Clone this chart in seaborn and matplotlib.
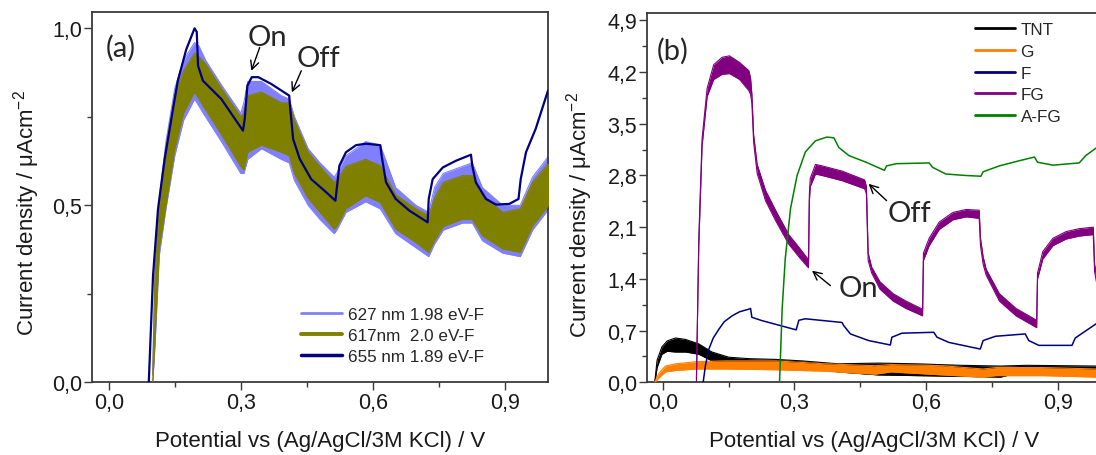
import matplotlib
matplotlib.use("Agg")
import matplotlib.pyplot as plt
from matplotlib.ticker import MultipleLocator, FuncFormatter
from matplotlib.lines import Line2D
import seaborn as sns

# ---------------- Panel (a) data ----------------
a_655_x = [0.091, 0.1006, 0.112, 0.127, 0.146, 0.157, 0.176, 0.195, 0.200, 0.203, 0.214, 0.256, 0.305,
           0.309, 0.315, 0.325, 0.340, 0.369, 0.410, 0.4125, 0.419, 0.434, 0.460, 0.494, 0.515, 0.518,
           0.524, 0.539, 0.562, 0.584, 0.617, 0.620, 0.630, 0.652, 0.683, 0.7245, 0.727, 0.736, 0.759,
           0.789, 0.823, 0.826, 0.834, 0.857, 0.880, 0.910, 0.931, 0.936, 0.948, 0.970, 0.998]
a_655_y = [0.0, 0.30, 0.49, 0.63, 0.772, 0.852, 0.94, 1.0, 0.99, 0.894, 0.852, 0.80, 0.711,
           0.744, 0.838, 0.862, 0.862, 0.843, 0.81, 0.772, 0.687, 0.631, 0.574, 0.537, 0.513, 0.546,
           0.612, 0.65, 0.67, 0.674, 0.67, 0.64, 0.565, 0.518, 0.485, 0.452, 0.518, 0.574, 0.607,
           0.626, 0.643, 0.612, 0.565, 0.518, 0.502, 0.504, 0.518, 0.574, 0.65, 0.716, 0.824]

a_noisy_x = [0.100, 0.105, 0.115, 0.130, 0.150, 0.170, 0.195, 0.205, 0.220, 0.256, 0.300, 0.307, 0.316,
             0.347, 0.392, 0.410, 0.422, 0.453, 0.480, 0.512, 0.518, 0.539, 0.584, 0.617, 0.652, 0.698,
             0.727, 0.740, 0.760, 0.804, 0.826, 0.849, 0.895, 0.935, 0.963, 1.000]
a_617_hi = [0.02, 0.30, 0.50, 0.66, 0.81, 0.88, 0.93, 0.92, 0.90, 0.83, 0.75, 0.76, 0.81,
            0.82, 0.79, 0.79, 0.74, 0.65, 0.61, 0.565, 0.57, 0.61, 0.63, 0.612, 0.53, 0.49,
            0.47, 0.52, 0.565, 0.584, 0.584, 0.53, 0.48, 0.49, 0.565, 0.62]
a_617_lo = [0.00, 0.12, 0.38, 0.50, 0.66, 0.76, 0.82, 0.80, 0.77, 0.70, 0.61, 0.60, 0.65,
            0.67, 0.65, 0.64, 0.59, 0.52, 0.48, 0.433, 0.44, 0.49, 0.527, 0.508, 0.433, 0.395,
            0.367, 0.40, 0.44, 0.461, 0.46, 0.414, 0.377, 0.367, 0.442, 0.50]
a_627_hi = [0.03, 0.32, 0.52, 0.68, 0.83, 0.91, 0.96, 0.95, 0.91, 0.84, 0.76, 0.79, 0.85,
            0.85, 0.81, 0.80, 0.75, 0.66, 0.62, 0.58, 0.59, 0.64, 0.68, 0.67, 0.55, 0.50,
            0.48, 0.55, 0.59, 0.61, 0.62, 0.55, 0.50, 0.50, 0.58, 0.64]
a_627_lo = [0.00, 0.10, 0.36, 0.49, 0.64, 0.74, 0.80, 0.78, 0.75, 0.68, 0.59, 0.59, 0.63,
            0.66, 0.63, 0.62, 0.57, 0.50, 0.46, 0.42, 0.43, 0.48, 0.51, 0.49, 0.42, 0.38,
            0.355, 0.39, 0.43, 0.45, 0.45, 0.40, 0.365, 0.355, 0.43, 0.49]
a_labels = ["627 nm 1.98 eV-F", "617nm  2.0 eV-F", "655 nm 1.89 eV-F"]

# ---------------- Panel (b) data ----------------
b_fg_x = [0.0766, 0.082, 0.0895, 0.101, 0.116, 0.135, 0.152, 0.175, 0.196, 0.200, 0.203, 0.207, 0.215,
          0.234, 0.257, 0.287, 0.310, 0.332, 0.334, 0.336, 0.348, 0.363, 0.4085, 0.460, 0.464, 0.468,
          0.476, 0.495, 0.525, 0.554, 0.592, 0.594, 0.607, 0.630, 0.661, 0.691, 0.721, 0.724, 0.730,
          0.737, 0.767, 0.805, 0.852, 0.854, 0.866, 0.889, 0.919, 0.949, 0.981, 0.984, 0.990, 1.000]
b_fg_lo = [0.00, 1.85, 3.20, 3.87, 4.10, 4.17, 4.18, 4.10, 3.95, 3.90, 3.78, 3.25, 2.83,
           2.46, 2.19, 1.87, 1.70, 1.55, 2.45, 2.65, 2.82, 2.80, 2.73, 2.62, 2.55, 1.65,
           1.48, 1.26, 1.10, 1.00, 0.90, 1.65, 1.85, 2.07, 2.20, 2.24, 2.22, 1.85, 1.60,
           1.45, 1.10, 0.90, 0.74, 1.40, 1.67, 1.85, 1.94, 1.98, 2.00, 1.50, 1.30, 1.20]
b_fg_hi = [0.05, 1.95, 3.30, 3.98, 4.30, 4.40, 4.42, 4.33, 4.22, 4.12, 3.90, 3.35, 2.95,
           2.60, 2.33, 2.00, 1.83, 1.66, 2.55, 2.76, 2.95, 2.93, 2.86, 2.74, 2.65, 1.75,
           1.56, 1.36, 1.20, 1.10, 0.99, 1.75, 1.95, 2.17, 2.30, 2.34, 2.33, 1.95, 1.70,
           1.53, 1.20, 1.00, 0.84, 1.48, 1.77, 1.95, 2.04, 2.08, 2.10, 1.60, 1.40, 1.30]

b_afg_x = [0.266, 0.272, 0.279, 0.291, 0.306, 0.325, 0.348, 0.374, 0.390, 0.401, 0.424, 0.463, 0.505,
           0.510, 0.532, 0.607, 0.615, 0.645, 0.691, 0.725, 0.730, 0.767, 0.8125, 0.847, 0.854, 0.889,
           0.949, 0.964, 0.987, 1.000]
b_afg_y = [0.0, 0.99, 1.67, 2.35, 2.80, 3.12, 3.27, 3.32, 3.31, 3.18, 3.07, 2.98, 2.87,
           2.93, 2.96, 2.97, 2.91, 2.82, 2.80, 2.79, 2.85, 2.93, 3.00, 3.05, 2.98, 2.94,
           2.97, 3.07, 3.17, 3.22]

b_f_x = [0.092, 0.097, 0.105, 0.115, 0.128, 0.140, 0.158, 0.175, 0.196, 0.200, 0.203, 0.226, 0.304,
         0.310, 0.325, 0.4085, 0.412, 0.4275, 0.469, 0.5185, 0.522, 0.545, 0.6175, 0.625, 0.652,
         0.7235, 0.730, 0.758, 0.826, 0.834, 0.857, 0.9325, 0.940, 0.987, 1.000]
b_f_y = [0.0, 0.22, 0.45, 0.60, 0.72, 0.82, 0.90, 0.955, 0.99, 1.00, 0.88, 0.835, 0.71,
         0.84, 0.86, 0.81, 0.77, 0.655, 0.565, 0.505, 0.61, 0.665, 0.677, 0.61, 0.54,
         0.45, 0.565, 0.623, 0.655, 0.565, 0.50, 0.50, 0.60, 0.79, 0.83]

b_tnt_x = [-0.018, -0.013, -0.002, 0.010, 0.029, 0.052, 0.082, 0.112, 0.150, 0.196, 0.257, 0.317,
           0.400, 0.490, 0.580, 0.680, 0.770, 0.830, 0.990, 1.000]
b_tnt_lo = [0.00, 0.20, 0.38, 0.42, 0.41, 0.41, 0.38, 0.29, 0.25, 0.23, 0.24, 0.22,
            0.14, 0.10, 0.09, 0.08, 0.07, 0.16, 0.15, 0.15]
b_tnt_hi = [0.02, 0.30, 0.48, 0.56, 0.60, 0.58, 0.52, 0.41, 0.34, 0.32, 0.31, 0.29,
            0.25, 0.26, 0.25, 0.23, 0.22, 0.23, 0.22, 0.22]

b_g_x = [-0.018, -0.009, 0.006, 0.029, 0.077, 0.143, 0.257, 0.370, 0.484, 0.520, 0.636, 0.730,
         0.760, 0.866, 0.990, 1.000]
b_g_lo = [0.00, 0.06, 0.14, 0.16, 0.18, 0.18, 0.17, 0.15, 0.11, 0.14, 0.10, 0.07,
          0.09, 0.09, 0.07, 0.07]
b_g_hi = [0.01, 0.12, 0.22, 0.25, 0.28, 0.29, 0.29, 0.25, 0.225, 0.24, 0.225, 0.18,
          0.20, 0.20, 0.18, 0.18]
b_labels = ["TNT", "G", "F", "FG", "A-FG"]

# ---------------- style ----------------
sns.set_theme(style="ticks")
plt.rcParams['font.family'] = ['Liberation Sans', 'DejaVu Sans']
plt.rcParams['mathtext.fontset'] = 'custom'
plt.rcParams['mathtext.rm'] = 'Liberation Sans'
plt.rcParams['mathtext.it'] = 'Liberation Sans:italic'
plt.rcParams['mathtext.default'] = 'regular'

C_627 = '#8080FF'
C_617 = '#808000'
C_655 = '#000080'
C_TNT = '#000000'
C_G = '#FF7F00'
C_F = '#000080'
C_FG = '#800080'
C_AFG = '#008000'
SPINE = '#3a3a3a'
ANN_FONT = ['Lato', 'DejaVu Sans']

fig = plt.figure(figsize=(10.96, 4.56), dpi=100)
fig.patch.set_facecolor('white')
H = 456.0
W = 1096.0
ax_a = fig.add_axes([92 / W, (H - 383.3) / H, 456 / W, 370.6 / H])
ax_b = fig.add_axes([647 / W, (H - 383.3) / H, 454.6 / W, 369.3 / H])

comma = FuncFormatter(lambda v, p: f'{v:.1f}'.replace('.', ','))


def line(ax, x, y, color, lw, z):
    sns.lineplot(x=x, y=y, ax=ax, color=color, lw=lw, estimator=None, sort=False,
                 legend=False, zorder=z)


def band(ax, x, lo, hi, color, z):
    ax.fill_between(x, lo, hi, color=color, lw=0, zorder=z)
    line(ax, x, lo, color, 0.8, z)
    line(ax, x, hi, color, 0.8, z)


def style_axes(ax, xlim, ylim, ymaj, ymin):
    ax.set_xlim(*xlim)
    ax.set_ylim(*ylim)
    ax.xaxis.set_major_locator(MultipleLocator(0.3))
    ax.xaxis.set_minor_locator(MultipleLocator(0.15))
    ax.yaxis.set_major_locator(MultipleLocator(ymaj))
    ax.yaxis.set_minor_locator(MultipleLocator(ymin))
    ax.xaxis.set_major_formatter(comma)
    ax.yaxis.set_major_formatter(comma)
    ax.tick_params(which='major', direction='out', length=5.5, width=1.0, color=SPINE,
                   labelsize=15.5, labelcolor='#1a1a1a', pad=1.5)
    ax.tick_params(which='minor', direction='out', length=3.5, width=1.0, color=SPINE)
    ax.tick_params(top=False, right=False, which='both')
    for s in ax.spines.values():
        s.set_color(SPINE)
        s.set_linewidth(1.3)
        s.set_visible(True)
    ax.set_facecolor('white')
    ax.set_xlabel('Potential vs (Ag/AgCl/3M KCl) / V', fontsize=16, color='#1a1a1a')
    ax.set_ylabel('Current density / μAcm$^{-2}$', fontsize=16, color='#1a1a1a')
    ax.xaxis.set_label_coords(0.5, -0.129)


# ---------------- Panel (a) ----------------
band(ax_a, a_noisy_x, a_627_lo, a_627_hi, C_627, 2)
band(ax_a, a_noisy_x, a_617_lo, a_617_hi, C_617, 3)
line(ax_a, a_655_x, a_655_y, C_655, 1.6, 4)
style_axes(ax_a, (-0.038, 0.998), (0, 1.047), 0.5, 0.25)
ax_a.yaxis.set_label_coords(-0.11, 0.46)

h_a = [Line2D([], [], color=C_627, lw=2.0), Line2D([], [], color=C_617, lw=2.8),
       Line2D([], [], color=C_655, lw=2.5)]
ax_a.legend(h_a, a_labels, loc='upper left', bbox_to_anchor=(0.458, 0.204), frameon=False,
            fontsize=12.3, handlelength=2.4, handletextpad=0.35, labelspacing=0.36,
            borderpad=0, borderaxespad=0)

ax_a.text(-0.006, 0.923, '(a)', fontsize=21, family=ANN_FONT, ha='left', va='baseline')
ax_a.text(0.316, 0.953, 'On', fontsize=21, family=ANN_FONT, ha='left', va='baseline')
ax_a.text(0.4265, 0.894, 'Off', fontsize=21, family=ANN_FONT, ha='left', va='baseline')
arrow = dict(arrowstyle='->, head_length=0.5, head_width=0.25', lw=1.0, color='black',
             shrinkA=0, shrinkB=0)
ax_a.annotate('', xy=(0.324, 0.880), xytext=(0.343, 0.946), arrowprops=arrow)
ax_a.annotate('', xy=(0.416, 0.819), xytext=(0.4375, 0.880), arrowprops=arrow)

# ---------------- Panel (b) ----------------
band(ax_b, b_tnt_x, b_tnt_lo, b_tnt_hi, C_TNT, 2)
band(ax_b, b_g_x, b_g_lo, b_g_hi, C_G, 3)
line(ax_b, b_f_x, b_f_y, C_F, 1.1, 4)
band(ax_b, b_fg_x, b_fg_lo, b_fg_hi, C_FG, 5)
line(ax_b, b_afg_x, b_afg_y, C_AFG, 1.1, 6)
style_axes(ax_b, (-0.036, 1.0), (0, 5.0), 0.7, 0.35)
ax_b.yaxis.set_label_coords(-0.114, 0.456)

h_b = [Line2D([], [], color=c, lw=2.0) for c in (C_TNT, C_G, C_F, C_FG, C_AFG)]
ax_b.legend(h_b, b_labels, loc='upper left', bbox_to_anchor=(0.722, 0.976), frameon=False,
            fontsize=12.3, handlelength=2.3, handletextpad=0.35, labelspacing=0.4,
            borderpad=0, borderaxespad=0)

ax_b.text(-0.013, 4.38, '(b)', fontsize=21, family=ANN_FONT, ha='left', va='baseline')
ax_b.text(0.5126, 2.19, 'Off', fontsize=21, family=ANN_FONT, ha='left', va='baseline')
ax_b.text(0.40, 1.173, 'On', fontsize=21, family=ANN_FONT, ha='left', va='baseline')
ax_b.annotate('', xy=(0.469, 2.687), xytext=(0.510, 2.46), arrowprops=arrow)
ax_b.annotate('', xy=(0.340, 1.512), xytext=(0.382, 1.309), arrowprops=arrow)

fig.savefig('out.png', dpi=100, facecolor='white')
